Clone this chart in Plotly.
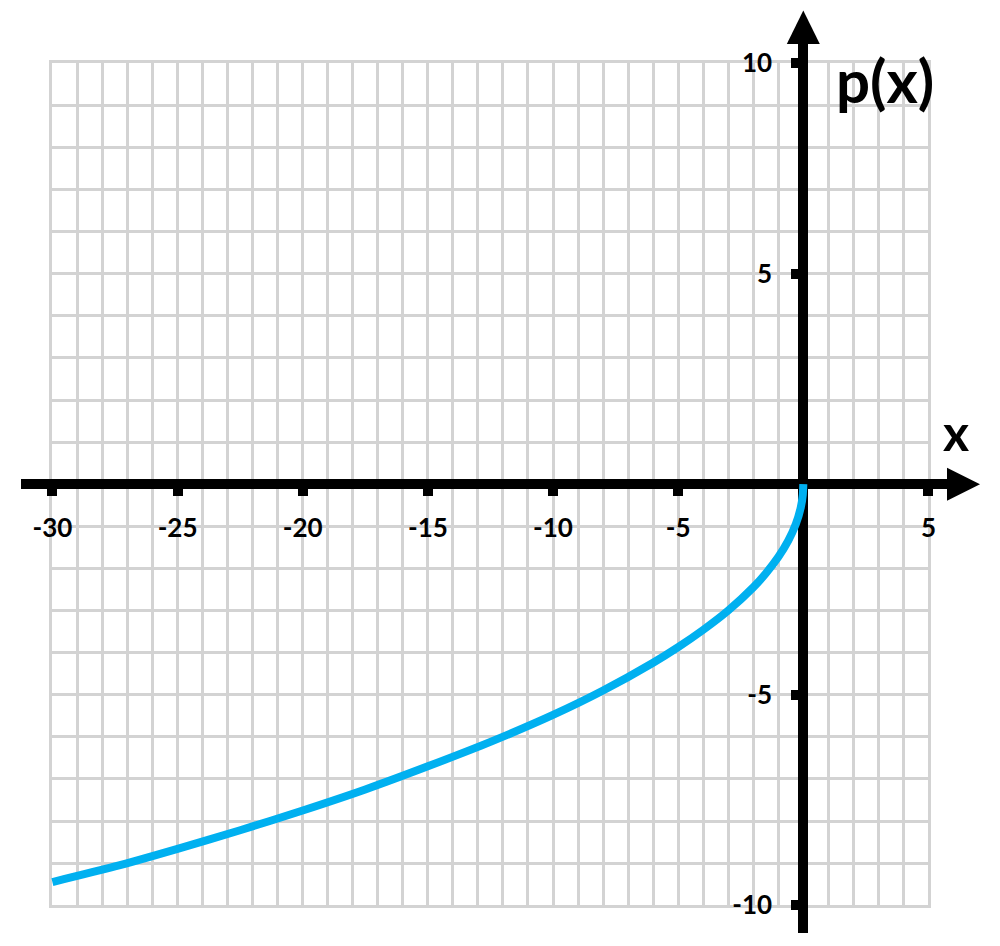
import plotly.graph_objects as go

# curve p(x)
x_vals = [-30, -27.5, -25, -22.5, -20, -17.5, -15, -12.5, -10, -8, -6, -5, -4, -3,
          -2, -1.5, -1, -0.6, -0.3, -0.1, -0.02, 0]
p_vals = [-9.45, -9.08, -8.66, -8.22, -7.75, -7.25, -6.7, -6.12, -5.48, -4.9, -4.24,
          -3.87, -3.46, -3.0, -2.45, -2.12, -1.73, -1.34, -0.95, -0.55, -0.25, 0]

x_ticks = [-30, -25, -20, -15, -10, -5, 5]
x_labels = ["-30", "-25", "-20", "-15", "-10", "-5", "5"]
y_ticks = [-10, -5, 5, 10]
y_labels = ["-10", "-5", "5", "10"]
grid_x = [-30, 5]
grid_y = [-10, 10]

# page has an 8px body margin, so the figure is a bit smaller than the window
OFF = 8
W, H = 984, 930
X0, XS = 803.3, 25.03   # screen pixel of x=0 and pixels per unit
Y0, YS = 484.2, 42.1

FONT = "Lato"
GRID = "#d3d3d3"
BLUE = "#00B0F0"


def fx(p):
    return (p - OFF) / W


def fy(p):
    return 1 - (p - OFF) / H


fig = go.Figure()

# empty trace so the grid subplot exists
fig.add_trace(go.Scatter(x=[], y=[], xaxis="x", yaxis="y", showlegend=False))

fig.add_trace(go.Scatter(
    x=x_vals, y=p_vals, mode="lines", xaxis="x2", yaxis="y2",
    line=dict(color=BLUE, width=8, shape="spline", smoothing=0.6),
    hoverinfo="skip", showlegend=False,
))

# axis arms in screen pixels: x axis 21 -> 948, y axis 932.7 -> 43
xl, xr = 21, 948
yb, yt = 932.7, 43

tickfont = dict(family=FONT, size=26, color="black", weight="bold")

fig.update_layout(
    width=W, height=H,
    margin=dict(l=0, r=0, t=0, b=0),
    paper_bgcolor="white",
    plot_bgcolor="rgba(0,0,0,0)",
    xaxis=dict(
        domain=[fx(X0 + grid_x[0] * XS), fx(X0 + grid_x[1] * XS)],
        range=grid_x, dtick=1, tick0=0,
        showgrid=True, gridcolor=GRID, gridwidth=2.5,
        showline=True, mirror=True, linecolor=GRID, linewidth=2.5,
        zeroline=False, showticklabels=False, ticks="",
    ),
    yaxis=dict(
        domain=[fy(Y0 - grid_y[0] * YS), fy(Y0 - grid_y[1] * YS)],
        range=grid_y, dtick=1, tick0=0,
        showgrid=True, gridcolor=GRID, gridwidth=2.5,
        showline=True, mirror=True, linecolor=GRID, linewidth=2.5,
        zeroline=False, showticklabels=False, ticks="",
    ),
    xaxis2=dict(
        domain=[fx(xl), fx(xr)],
        range=[(xl - X0) / XS, (xr - X0) / XS],
        anchor="free", position=fy(Y0),
        showgrid=False, zeroline=False,
        showline=True, linecolor="black", linewidth=10,
        ticks="outside", ticklen=7, tickwidth=10, tickcolor="black",
        tickmode="array", tickvals=x_ticks, ticktext=x_labels,
        ticklabelstandoff=10,
        tickfont=tickfont, layer="below traces",
    ),
    yaxis2=dict(
        domain=[fy(yb), fy(yt)],
        range=[(Y0 - yb) / YS, (Y0 - yt) / YS],
        anchor="free", position=fx(X0),
        showgrid=False, zeroline=False,
        showline=True, linecolor="black", linewidth=10,
        ticks="outside", ticklen=7, tickwidth=10, tickcolor="black",
        tickmode="array", tickvals=y_ticks, ticktext=y_labels,
        ticklabelstandoff=14,
        tickfont=tickfont, layer="below traces",
    ),
)

# arrow heads
fig.add_shape(
    type="path", xref="paper", yref="paper", layer="above",
    path="M {},{} L {},{} L {},{} Z".format(
        fx(947), fy(Y0 - 16.5), fx(980), fy(Y0), fx(947), fy(Y0 + 16.5)),
    fillcolor="black", line=dict(width=0),
)
fig.add_shape(
    type="path", xref="paper", yref="paper", layer="above",
    path="M {},{} L {},{} L {},{} Z".format(
        fx(X0 - 16.5), fy(44), fx(X0), fy(10.5), fx(X0 + 16.5), fy(44)),
    fillcolor="black", line=dict(width=0),
)

fig.add_annotation(
    text="p(x)", xref="paper", yref="paper", x=fx(885), y=fy(80),
    xanchor="center", yanchor="middle", showarrow=False,
    font=dict(family=FONT, size=60, color="black", weight="bold"),
)
fig.add_annotation(
    text="x", xref="paper", yref="paper", x=fx(956), y=fy(432),
    xanchor="center", yanchor="middle", showarrow=False,
    font=dict(family=FONT, size=50, color="black", weight="bold"),
)

fig.write_html("out.html")
